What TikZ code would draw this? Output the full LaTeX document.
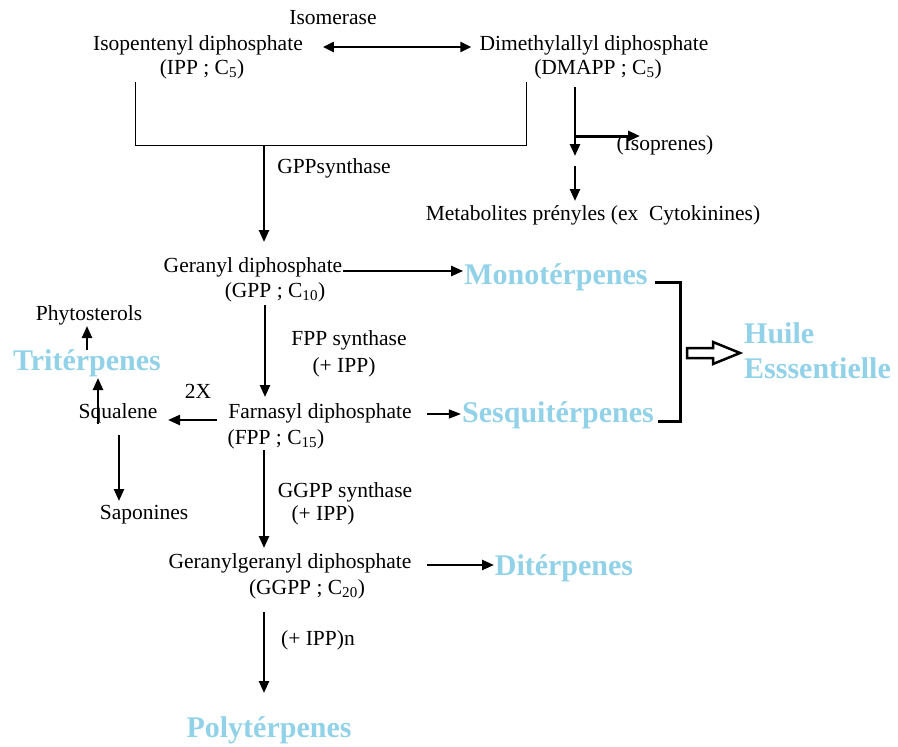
\documentclass[tikz,border=0pt]{standalone}
\usepackage{fontspec}
\setmainfont{Liberation Serif}
\usetikzlibrary{arrows.meta}
\definecolor{terp}{RGB}{146,210,232}
\begin{document}
\begin{tikzpicture}[x=1pt,y=-1pt,
  lbl/.style={inner sep=0pt, font=\fontsize{21.5}{24}\selectfont},
  terpen/.style={inner sep=0pt, text=terp, font=\fontsize{30}{33}\selectfont\bfseries},
  arr/.style={line width=2.4pt, -{Triangle[length=12pt,width=10pt]}},
  darr/.style={line width=2.4pt, {Triangle[length=11pt,width=10pt]}-{Triangle[length=11pt,width=10pt]}},
  thinline/.style={line width=1pt},
  bracket/.style={line width=3pt}]
\useasboundingbox (0,0) rectangle (898,747);
\fill[white] (0,0) rectangle (898,747);

% top
\node[lbl] (iso) at (333,18) {Isomerase};
\node[lbl] (ipp) at (198,45) {Isopentenyl diphosphate};
\node[lbl] (ippf) at (202,69) {(IPP ; C\textsubscript{5})};
\node[lbl] (dma) at (594,45) {Dimethylallyl diphosphate};
\node[lbl] (dmaf) at (598,69) {(DMAPP ; C\textsubscript{5})};
\coordinate (ya) at (0,47);
\draw[darr] ([xshift=20pt]ipp.east |- ya) -- ([xshift=-8pt]dma.west |- ya);

% bracket joining IPP and DMAPP
\coordinate (bl0) at (135,82);
\coordinate (bl) at (135,145);
\coordinate (br) at (526,145);
\coordinate (br0) at (526,82);
\coordinate (bj) at (264,145);
\draw[thinline] (bl0) -- (bl) -- (br) -- (br0);

\node[lbl] (gppsyn) at (334,168) {GPPsynthase};
\node[lbl] (gpp) at (253,267) {Geranyl diphosphate};
\node[lbl] (gppf) at (275,292) {(GPP ; C\textsubscript{10})};
\draw[arr] (bj) -- (264,242);

% DMAPP branch
\node[lbl] (isop) at (665,145) {(Isoprenes)};
\node[lbl] (meta) at (593,215) {Metabolites prényles (ex\ \ Cytokinines)};
\coordinate (d0) at (575,87);
\coordinate (d1) at (575,136);
\draw[arr] (d0) -- (575,156);
\draw[line width=3pt, -{Triangle[length=12pt,width=10pt]}] (d1) -- (640,136);
\draw[arr] (575,166) -- (575,201);

% GPP -> Mono
\node[terpen] (mono) at (556,277) {Monotérpenes};
\coordinate (ym) at (0,271);
\draw[arr] ([xshift=1pt]gpp.east |- ym) -- ([xshift=-1pt]mono.west |- ym);

% GPP -> FPP
\node[lbl] (fppsyn) at (349,340) {FPP synthase};
\node[lbl] (fppipp) at (344,367) {(+ IPP)};
\draw[arr] (265,305) -- (265,397);
\node[lbl] (fpp) at (320,413) {Farnasyl diphosphate};
\node[lbl] (fppf) at (276,439) {(FPP ; C\textsubscript{15})};

% FPP -> Sesqui
\node[terpen] (sesq) at (558,415) {Sesquitérpenes};
\coordinate (ys) at (0,414);
\draw[line width=1.3pt, -{Triangle[length=12pt,width=9pt]}] (427,414) -- ([xshift=-1pt]sesq.west |- ys);

% bracket to essential oil
\coordinate (k1) at (680,282);
\coordinate (k2) at (680,421);
\draw[bracket] (655,282) -- (k1) -- (k2) -- (658,421);
\node[terpen, anchor=west] (huile) at (744,333) {Huile};
\node[terpen, anchor=west] (ess) at (744,368) {Esssentielle};
\draw[line width=2.5pt, fill=white, line join=miter] (687,348) -- (713,348) -- (713,342) -- (740,353) -- (713,364) -- (713,358) -- (687,358) -- cycle;

% FPP -> Squalene
\node[lbl] (squal) at (118,413) {Squalene};
\node[lbl] (twox) at (198,391) {2X};
\draw[arr] (217,420) -- (168,420);
\node[terpen] (tri) at (87,363) {Tritérpenes};
\draw[arr] (98,424) -- (98,378);
\node[lbl] (phyto) at (89,315) {Phytosterols};
\draw[arr] (87,350) -- (87,326);
\node[lbl] (sapo) at (144,515) {Saponines};
\draw[arr] (119,435) -- (119,501);

% FPP -> GGPP
\node[lbl] (ggsyn) at (345,492) {GGPP synthase};
\node[lbl] (ggipp) at (323,515) {(+ IPP)};
\draw[arr] (264,450) -- (264,548);
\node[lbl] (ggpp) at (290,563) {Geranylgeranyl diphosphate};
\node[lbl] (ggppf) at (307,589) {(GGPP ; C\textsubscript{20})};

% GGPP -> Di
\node[terpen] (dit) at (564,568) {Ditérpenes};
\draw[arr] (427,565) -- (494,565);

% GGPP -> Poly
\node[lbl] (ippn) at (318,640) {(+ IPP)n};
\node[terpen] (poly) at (269,730) {Polytérpenes};
\draw[arr] (264,612) -- (264,693);
\end{tikzpicture}
\end{document}
